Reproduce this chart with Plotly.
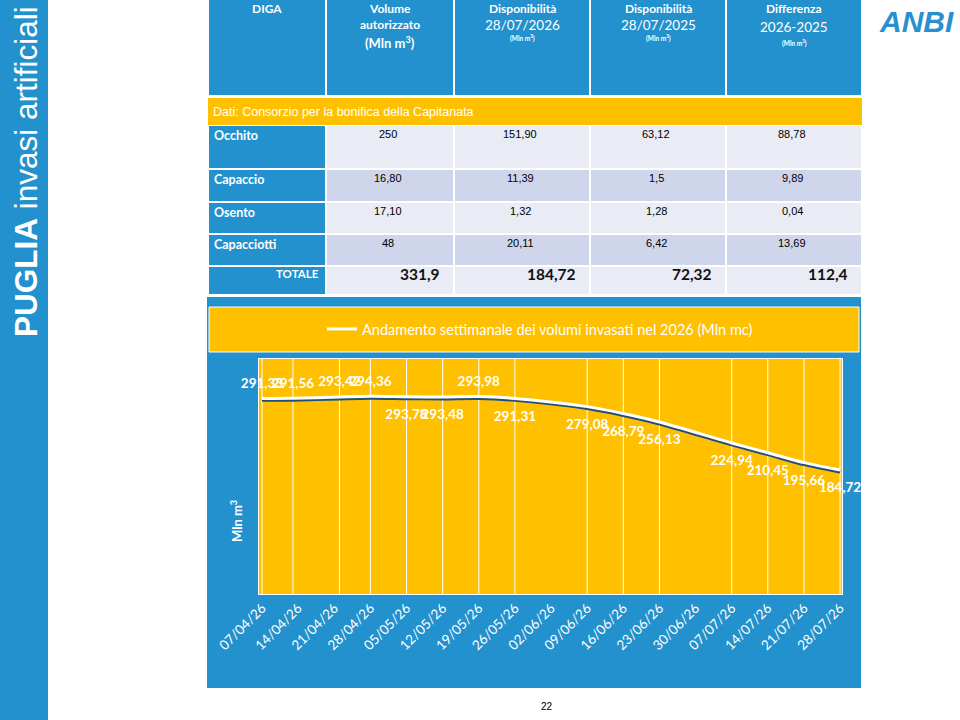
import plotly.graph_objects as go

W, H = 960, 720
BLUE = '#2391CD'
YELLOW = '#FFC000'
ROW_LIGHT = '#E9EBF5'
ROW_DARK = '#CFD5EA'

# dati tabella (come riportati nella slide)
dighe = ['Occhito', 'Capaccio', 'Osento', 'Capacciotti']
volume_autorizzato = ['250', '16,80', '17,10', '48']
disp_2026 = ['151,90', '11,39', '1,32', '20,11']
disp_2025 = ['63,12', '1,5', '1,28', '6,42']
differenza = ['88,78', '9,89', '0,04', '13,69']
totali = ['331,9', '184,72', '72,32', '112,4']
fonte = 'Dati: Consorzio per la bonifica della Capitanata'

header_titoli = ['DIGA', 'Volume', 'Disponibilità', 'Disponibilità', 'Differenza']
header_sotto = ['', 'autorizzato', '28/07/2026', '28/07/2025', '2026-2025']

# andamento settimanale 2026
date_rilievo = ['2026-04-07', '2026-04-13', '2026-04-22', '2026-04-28', '2026-05-05',
                '2026-05-12', '2026-05-19', '2026-05-26', '2026-06-09', '2026-06-16',
                '2026-06-23', '2026-07-07', '2026-07-14', '2026-07-21', '2026-07-28']
volumi = [291.33, 291.56, 293.42, 294.36, 293.78, 293.48, 293.98, 291.31,
          279.08, 268.79, 256.13, 224.94, 210.45, 195.66, 184.72]
etichette = [f'{v:.2f}'.replace('.', ',') for v in volumi]
pos_etichette = ['top center'] * 4 + ['bottom center'] * 2 + ['top center'] + ['bottom center'] * 8
# marker invisibili: servono solo a distanziare le etichette dalla linea
dist_etichette = [10 if p.startswith('top') else 18 for p in pos_etichette]


def px(x):
    return x / W


def py(y):
    return 1 - y / H


shapes = []
annotations = []


def rect(x0, y0, x1, y1, fill, line=None):
    shapes.append(dict(type='rect', xref='paper', yref='paper',
                       x0=px(x0), x1=px(x1), y0=py(y1), y1=py(y0),
                       fillcolor=fill, line=line or dict(width=0), layer='below'))


def text(x, y, s, size, color='white', family='Lato', xanchor='center', angle=0):
    annotations.append(dict(x=px(x), y=py(y), xref='paper', yref='paper', text=s,
                            showarrow=False, xanchor=xanchor, yanchor='middle',
                            textangle=angle, font=dict(size=size, color=color, family=family)))


# banda laterale
rect(0, 0, 48, 720, BLUE)
text(26, 172, '<b>PUGLIA</b> invasi artificiali', 31.5, family='Liberation Sans', angle=-90)

# logo
text(916, 21, '<b><i>ANBI</i></b>', 30, color='#2A8FD0', family='Liberation Sans')

# tabella
COLS = [208, 326, 454, 590, 726, 862]
for i in range(5):
    rect(COLS[i] + 1, 0, COLS[i + 1] - 1, 95, BLUE)
    cx = (COLS[i] + COLS[i + 1]) / 2
    text(cx, 9, '<b>' + header_titoli[i] + '</b>', 12)
    if i == 1:
        text(cx, 25, '<b>' + header_sotto[i] + '</b>', 12)
        text(cx, 42, '<b>(Mln m<sup>3</sup>)</b>', 13)
    elif i >= 2:
        yy = 27 if i == 4 else 25
        text(cx, yy, header_sotto[i], 13.5)
        text(cx, yy + 13 if i < 4 else yy + 16, '<b>(Mln m<sup>3</sup>)</b>', 6.5)

rect(COLS[0], 98, COLS[-1], 125, YELLOW)
text(211, 111.5, fonte, 12.5, family='Liberation Sans', xanchor='left')

row_top = [125, 169, 202, 234]
row_bot = [169, 202, 234, 266]
colonne = [volume_autorizzato, disp_2026, disp_2025, differenza]
for r, nome in enumerate(dighe):
    fill = ROW_LIGHT if r % 2 == 0 else ROW_DARK
    rect(COLS[0] + 1, row_top[r] + 1, COLS[1] - 1, row_bot[r] - 1, BLUE)
    text(212, row_top[r] + 10, '<b>' + nome + '</b>', 12.5, xanchor='left')
    for c, vals in enumerate(colonne):
        rect(COLS[c + 1] + 1, row_top[r] + 1, COLS[c + 2] - 1, row_bot[r] - 1, fill)
        text((COLS[c + 1] + COLS[c + 2]) / 2 - 2, row_top[r] + 9, vals[r], 11,
             color='black', family='Liberation Sans')

rect(COLS[0] + 1, 267, COLS[1] - 1, 294, BLUE)
text(321, 273, '<b>TOTALE</b>', 11.5, xanchor='right')
for c, v in enumerate(totali):
    rect(COLS[c + 1] + 1, 267, COLS[c + 2] - 1, 294, ROW_LIGHT)
    text(COLS[c + 2] - 12, 274, '<b>' + v + '</b>', 15.5, color='#111111', xanchor='right')

# riquadro grafico
rect(207, 297, 861, 688, BLUE)
rect(209, 307, 859, 352, YELLOW, dict(color='white', width=1))
text(236, 521, '<b>Mln m<sup>3</sup></b>', 13, angle=-90)
text(547, 706, '22', 10, color='black', family='Liberation Sans')

# area del grafico e griglia verticale sulle date di rilievo
shapes.append(dict(type='rect', xref='x domain', yref='y domain', x0=0, x1=1, y0=0, y1=1,
                   fillcolor=YELLOW, line=dict(width=0), layer='below'))
for d in date_rilievo:
    shapes.append(dict(type='line', xref='x', yref='y domain', x0=d, x1=d, y0=0, y1=1,
                       line=dict(color='white', width=1), layer='below'))

fig = go.Figure()
# ombra della linea
fig.add_trace(go.Scatter(
    x=date_rilievo, y=volumi, mode='lines', yaxis='y',
    line=dict(color='#1F4E79', width=3, shape='spline', smoothing=0.8),
    hoverinfo='skip', showlegend=False
))
fig.add_trace(go.Scatter(
    x=date_rilievo, y=volumi, mode='lines+markers+text', yaxis='y2',
    name='Andamento settimanale dei volumi invasati nel 2026 (Mln mc)',
    line=dict(color='white', width=3, shape='spline', smoothing=0.8),
    marker=dict(size=dist_etichette, color='rgba(0,0,0,0)',
                line=dict(width=0, color='rgba(0,0,0,0)')),
    text=etichette, textposition=pos_etichette, cliponaxis=False,
    textfont=dict(color='white', size=13.5, family='Lato', weight='bold')
))

dom_y = [py(594), py(359)]
fig.update_layout(
    width=W, height=H,
    margin=dict(l=0, r=0, t=0, b=0),
    paper_bgcolor='white',
    plot_bgcolor='rgba(0,0,0,0)',
    shapes=shapes,
    annotations=annotations,
    showlegend=True,
    legend=dict(orientation='h', x=px(540), xanchor='center', y=py(329), yanchor='middle',
                bgcolor='rgba(0,0,0,0)', font=dict(color='white', size=14.5, family='Lato')),
    xaxis=dict(domain=[px(259), px(842)], type='date', automargin=False,
               range=['2026-04-06 10:00', '2026-07-28 09:00'],
               tickmode='linear', tick0='2026-04-07', dtick=7 * 86400000,
               tickformat='%d/%m/%y', tickangle=-45, ticks='',
               tickfont=dict(color='white', size=13.5, family='Lato'),
               showgrid=False, zeroline=False, showline=True, linecolor='white',
               linewidth=1, mirror=True),
    yaxis=dict(domain=dom_y, range=[2.9, 352.9], showticklabels=False, showgrid=False,
               automargin=False, zeroline=False, showline=True, linecolor='white', mirror=True),
    yaxis2=dict(domain=dom_y, range=[0, 350], overlaying='y', visible=False, automargin=False),
)

# la pagina senza margini del body, come la slide
fig.write_html('out.html', config={'displayModeBar': False},
               post_script="document.body.style.margin='0';")
